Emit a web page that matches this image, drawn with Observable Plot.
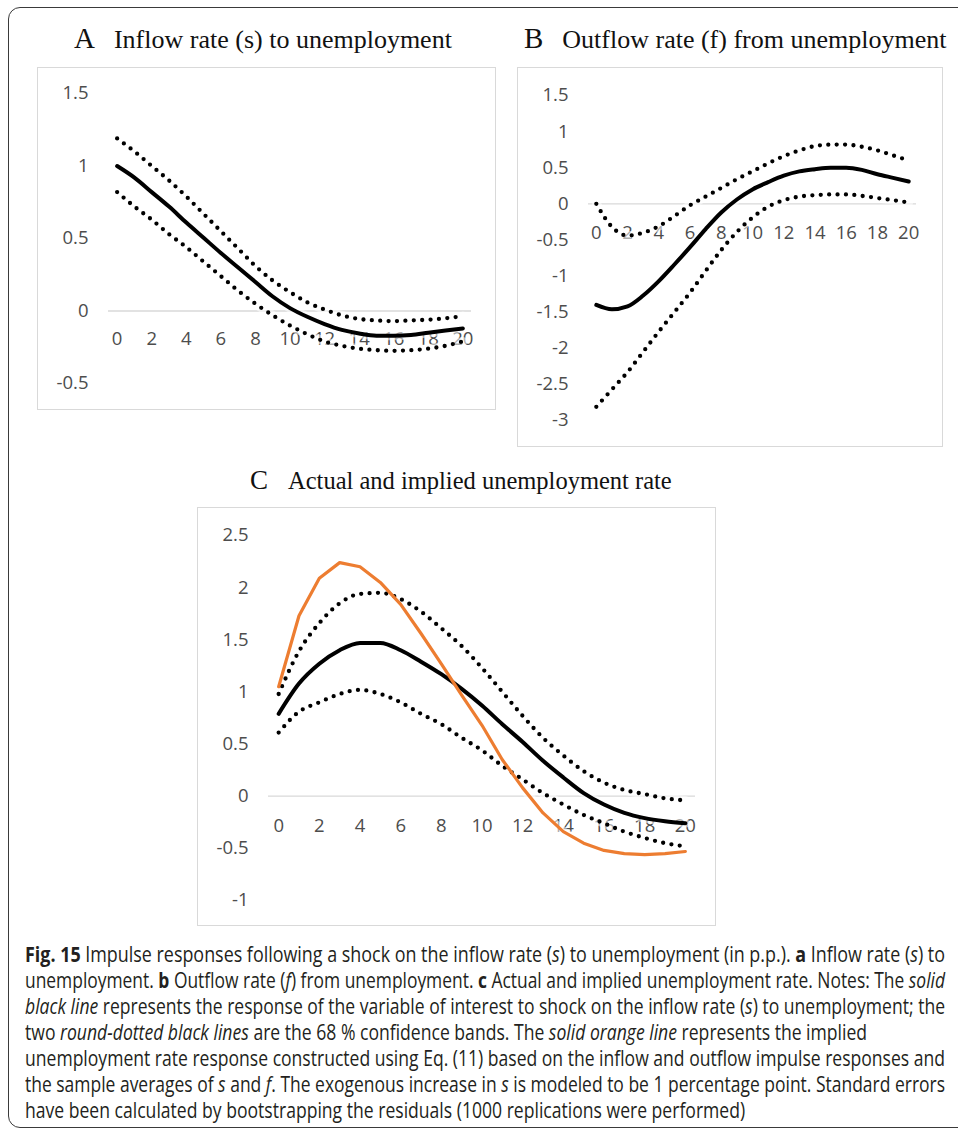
<!DOCTYPE html>
<html>
<head>
<meta charset="utf-8">
<script src="https://cdn.jsdelivr.net/npm/d3@7"></script>
<script src="https://cdn.jsdelivr.net/npm/@observablehq/plot@0.6"></script>
<style>
  html, body { margin: 0; padding: 0; background: #fff; }
  body { width: 958px; height: 1129px; overflow: hidden; position: relative; font-family: "Open Sans", sans-serif; }
  #frame { position: absolute; left: 8px; top: 7px; width: 1000px; height: 1121px; border: 1.5px solid #3a3a3a; border-radius: 12px; box-sizing: border-box; }
  .box { position: absolute; border: 1.5px solid #d9d9d9; box-sizing: border-box; pointer-events: none; }
  .plot { position: absolute; }
  .title { position: absolute; font-family: "Liberation Serif", "Times New Roman", serif; color: #111; white-space: nowrap; line-height: 30px; }
  .title .L { font-size: 29px; margin-right: 19px; }
  .title .T { font-size: 26px; }
  .title.c .L { font-size: 27px; margin-right: 20px; }
  .title.c .T { font-size: 24.5px; }
  #caption { position: absolute; left: 25px; top: 941px; color: #231f20; font-family: "Open Sans", sans-serif; font-size: 21px; }
  #caption .ln { display: block; white-space: nowrap; line-height: 26px; height: 26px; transform-origin: 0 0; width: max-content; }
  #caption b { font-weight: 700; }
</style>
</head>
<body>
<div id="frame"></div>

<div class="title" style="left:74px; top:23px;"><span class="L">A</span><span class="T">Inflow rate (s) to unemployment</span></div>
<div class="title" style="left:524px; top:23px;"><span class="L">B</span><span class="T">Outflow rate (f) from unemployment</span></div>
<div class="title c" style="left:250px; top:465px;"><span class="L">C</span><span class="T">Actual and implied unemployment rate</span></div>

<div id="pA" class="plot" style="left:37px; top:67px;"></div>
<div class="box" style="left:37px; top:67px; width:459px; height:343px;"></div>
<div id="pB" class="plot" style="left:517px; top:67px;"></div>
<div class="box" style="left:517px; top:67px; width:426px; height:380px;"></div>
<div id="pC" class="plot" style="left:197px; top:507px;"></div>
<div class="box" style="left:197px; top:507px; width:519px; height:419px;"></div>

<div id="caption">
  <span class="ln"><b>Fig. 15</b> Impulse responses following a shock on the inflow rate (<i>s</i>) to unemployment (in p.p.). <b>a</b> Inflow rate (<i>s</i>) to</span>
  <span class="ln">unemployment. <b>b</b> Outflow rate (<i>f</i>) from unemployment. <b>c</b> Actual and implied unemployment rate. Notes: The <i>solid</i></span>
  <span class="ln"><i>black line</i> represents the response of the variable of interest to shock on the inflow rate (<i>s</i>) to unemployment; the</span>
  <span class="ln short">two <i>round-dotted black lines</i> are the 68 % confidence bands. The <i>solid orange line</i> represents the implied</span>
  <span class="ln">unemployment rate response constructed using Eq. (11) based on the inflow and outflow impulse responses and</span>
  <span class="ln">the sample averages of <i>s</i> and <i>f</i>. The exogenous increase in <i>s</i> is modeled to be 1 percentage point. Standard errors</span>
  <span class="ln short">have been calculated by bootstrapping the residuals (1000 replications were performed)</span>
</div>

<script>
// ---- Data (horizon in periods) ----
const horizon = [0,1,2,3,4,5,6,7,8,9,10,11,12,13,14,15,16,17,18,19,20];
const xTickLabels = [0,2,4,6,8,10,12,14,16,18,20];

// Panel A: inflow rate (s)
const aYTicks = [-0.5, 0, 0.5, 1, 1.5];
const aSolid = [1.00,0.92,0.82,0.72,0.61,0.505,0.40,0.30,0.20,0.10,0.02,-0.04,-0.09,-0.13,-0.155,-0.17,-0.17,-0.165,-0.15,-0.135,-0.12];
const aUpper = [1.19,1.10,1.00,0.90,0.79,0.67,0.55,0.43,0.31,0.21,0.13,0.06,0.01,-0.03,-0.055,-0.065,-0.07,-0.065,-0.06,-0.05,-0.035];
const aLower = [0.82,0.72,0.63,0.53,0.44,0.34,0.24,0.14,0.05,-0.03,-0.10,-0.16,-0.21,-0.24,-0.26,-0.27,-0.275,-0.27,-0.26,-0.24,-0.21];

// Panel B: outflow rate (f)
const bYTicks = [-3, -2.5, -2, -1.5, -1, -0.5, 0, 0.5, 1, 1.5];
const bSolid = [-1.40,-1.46,-1.42,-1.27,-1.07,-0.84,-0.60,-0.35,-0.12,0.06,0.20,0.30,0.39,0.45,0.48,0.50,0.50,0.47,0.41,0.36,0.31];
const bUpper = [0.00,-0.32,-0.44,-0.40,-0.31,-0.17,-0.02,0.10,0.22,0.34,0.45,0.56,0.66,0.74,0.80,0.82,0.82,0.79,0.74,0.67,0.60];
const bLower = [-2.81,-2.57,-2.33,-2.05,-1.77,-1.50,-1.23,-0.93,-0.64,-0.39,-0.19,-0.04,0.05,0.10,0.12,0.13,0.13,0.11,0.08,0.05,0.02];

// Panel C: actual and implied unemployment rate
const cYTicks = [-1, -0.5, 0, 0.5, 1, 1.5, 2, 2.5];
const cSolid = [0.79,1.08,1.27,1.40,1.47,1.47,1.40,1.29,1.17,1.03,0.87,0.69,0.52,0.34,0.18,0.03,-0.08,-0.16,-0.21,-0.24,-0.26];
const cUpper = [0.98,1.39,1.66,1.85,1.94,1.95,1.89,1.77,1.61,1.44,1.23,1.00,0.77,0.56,0.39,0.24,0.13,0.06,0.02,-0.02,-0.04];
const cLower = [0.61,0.81,0.90,0.98,1.02,0.98,0.90,0.79,0.69,0.56,0.44,0.29,0.16,0.03,-0.08,-0.18,-0.26,-0.34,-0.40,-0.45,-0.48];
const cImplied = [1.05,1.73,2.09,2.24,2.20,2.05,1.84,1.56,1.27,0.97,0.68,0.35,0.08,-0.16,-0.34,-0.45,-0.52,-0.55,-0.56,-0.55,-0.53];

const TICK_COLOR = "#4d4d4d";
const FONT = "'Open Sans', sans-serif";
const TICK_SIZE = 18.5;

function lineMarks(values, style) {
  const halo = Plot.line(horizon, {x: d => d, y: (d, i) => values[i], stroke: "#fff", strokeOpacity: 0.55, strokeWidth: 9, strokeLinejoin: "round", strokeLinecap: "round", curve: style.curve || "linear"});
  const main = Plot.line(horizon, {
    x: d => d, y: (d, i) => values[i],
    stroke: style.stroke, strokeWidth: style.width,
    strokeDasharray: style.dash, strokeLinecap: "round", strokeLinejoin: "round",
    curve: style.curve || "linear"
  });
  return [halo, main];
}

const SOLID = {stroke: "#000", width: 4, curve: "monotone-x"};
const DOTTED = {stroke: "#000", width: 4.3, dash: "0 8.4", curve: "monotone-x"};
const ORANGE = {stroke: "#ED7D31", width: 3.2, curve: "linear"};

function panel(cfg) {
  const halos = [], mains = [];
  for (const s of cfg.series) {
    const [h, m] = lineMarks(s.values, s.style);
    halos.push(h); mains.push(m);
  }
  return Plot.plot({
    width: cfg.w, height: cfg.h,
    marginLeft: cfg.ml, marginRight: cfg.mr, marginTop: cfg.mt, marginBottom: cfg.mb,
    x: {domain: [-0.5, 20.5], axis: null},
    y: {domain: cfg.yDomain},
    style: {fontFamily: FONT, fontSize: TICK_SIZE + "px", color: TICK_COLOR, background: "transparent", overflow: "visible"},
    marks: [
      Plot.ruleY([0], {stroke: "#d9d9d9", strokeWidth: 1.3}),
      Plot.axisY(cfg.yTicks, {tickSize: 0, tickPadding: 20, tickFormat: d => String(d), label: null, fontSize: TICK_SIZE, fill: TICK_COLOR}),
      Plot.text(xTickLabels, {x: d => d, y: 0, dy: cfg.xdy, text: d => String(d), fill: TICK_COLOR, fontSize: TICK_SIZE}),
      ...halos,
      ...mains
    ]
  });
}

document.getElementById("pA").append(panel({
  w: 459, h: 343, ml: 71, mr: 25, mt: 26, mb: 27, xdy: 28,
  yDomain: [-0.5, 1.5], yTicks: aYTicks,
  series: [
    {values: aUpper, style: DOTTED},
    {values: aLower, style: DOTTED},
    {values: aSolid, style: SOLID}
  ]
}));

document.getElementById("pB").append(panel({
  w: 426, h: 380, ml: 71, mr: 27, mt: 28, mb: 27, xdy: 29,
  yDomain: [-3, 1.5], yTicks: bYTicks,
  series: [
    {values: bUpper, style: DOTTED},
    {values: bLower, style: DOTTED},
    {values: bSolid, style: SOLID}
  ]
}));

document.getElementById("pC").append(panel({
  w: 519, h: 419, ml: 71, mr: 21, mt: 28, mb: 26, xdy: 30,
  yDomain: [-1, 2.5], yTicks: cYTicks,
  series: [
    {values: cUpper, style: DOTTED},
    {values: cLower, style: DOTTED},
    {values: cSolid, style: SOLID},
    {values: cImplied, style: ORANGE}
  ]
}));

// Fit caption lines horizontally (condensed look)
(function fitCaption() {
  const lines = Array.from(document.querySelectorAll("#caption .ln"));
  const target = 920;
  const full = lines.filter(l => !l.classList.contains("short"));
  const scales = full.map(l => target / l.getBoundingClientRect().width);
  const avg = scales.reduce((a, b) => a + b, 0) / scales.length;
  lines.forEach(l => {
    const w = l.getBoundingClientRect().width;
    const s = l.classList.contains("short") ? avg : target / w;
    l.style.transform = `scaleX(${s})`;
  });
})();
</script>
</body>
</html>
